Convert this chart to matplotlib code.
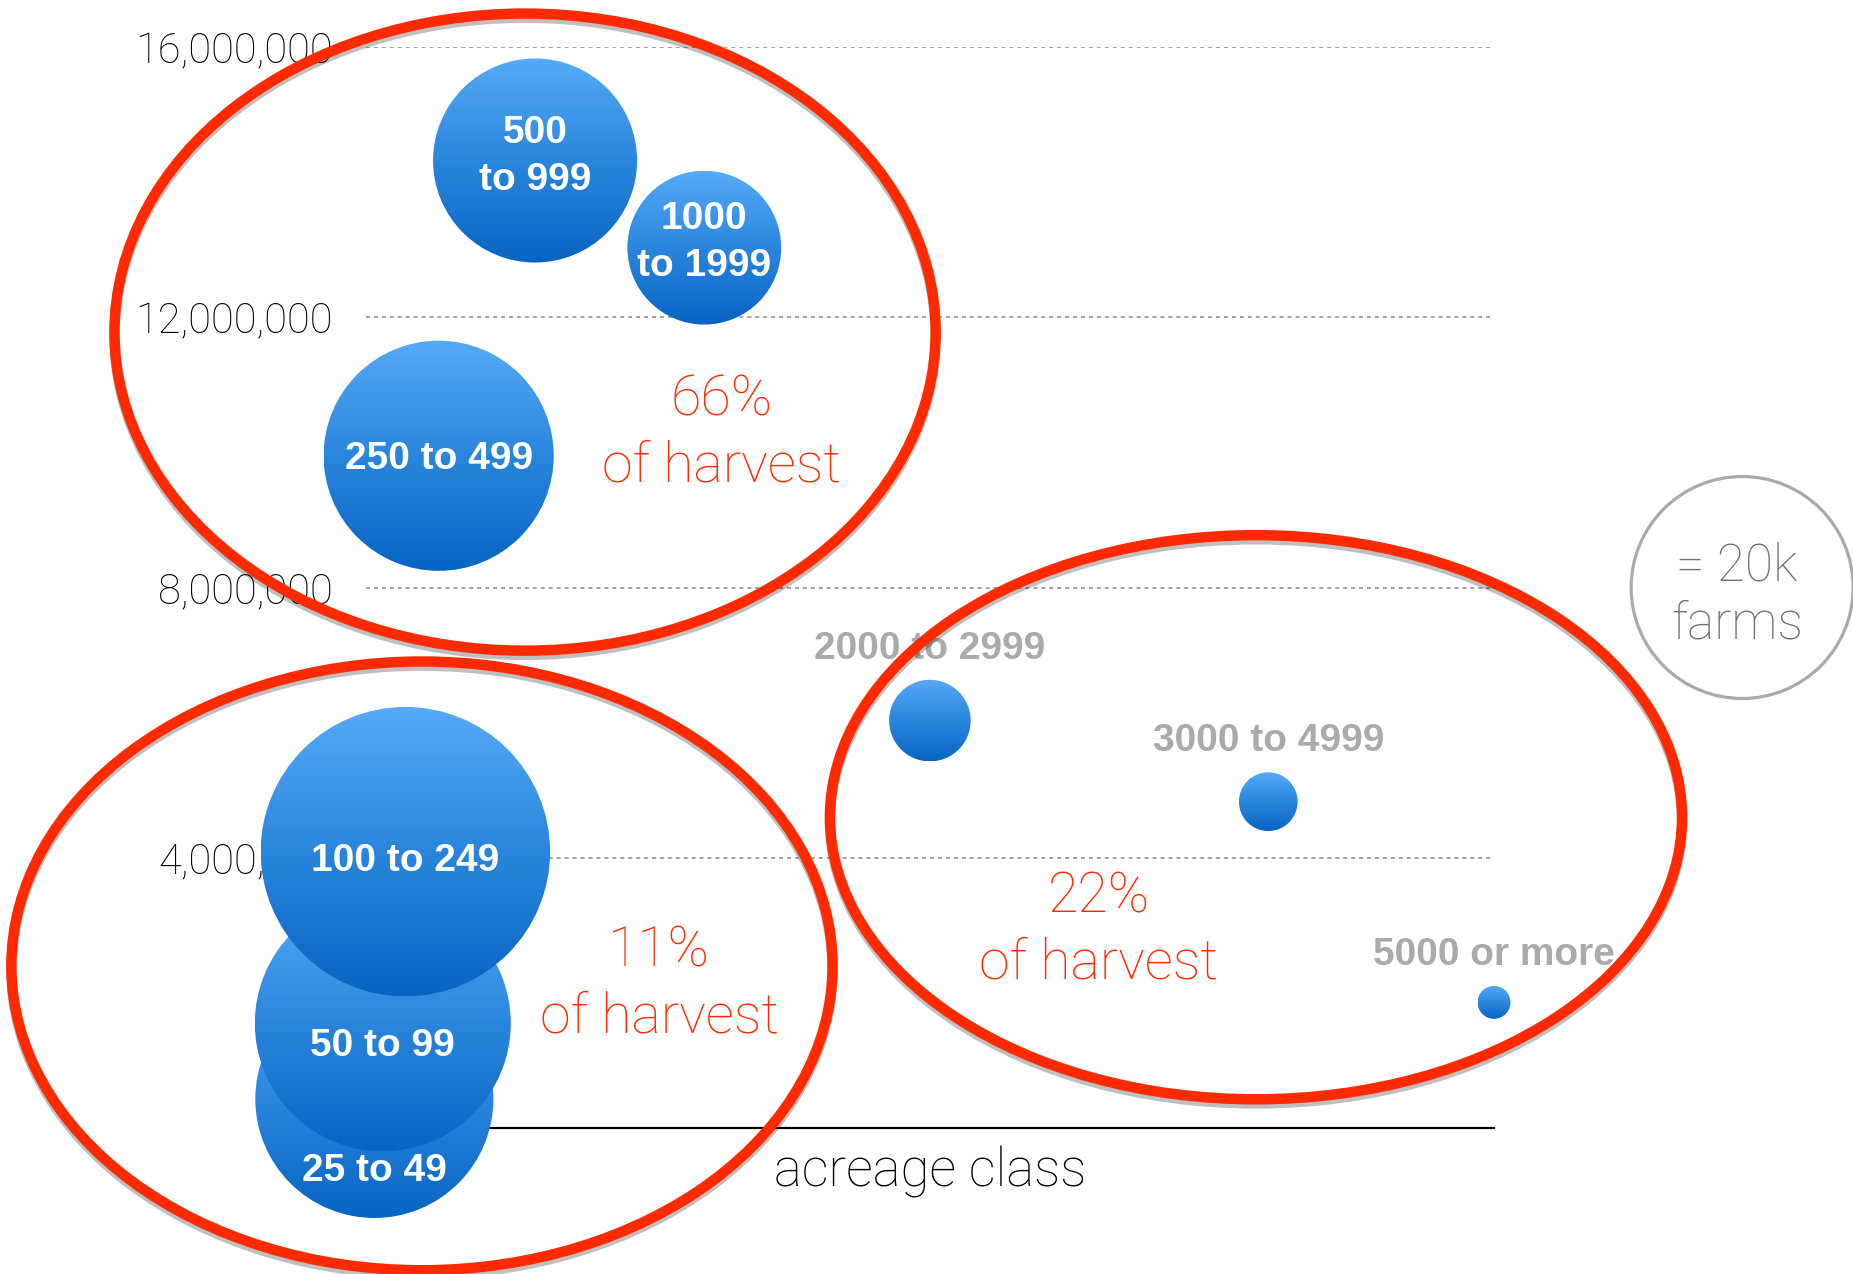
import numpy as np
import matplotlib
matplotlib.use("Agg")
import matplotlib.pyplot as plt
from matplotlib.patches import Circle, Ellipse
from matplotlib.colors import LinearSegmentedColormap
import matplotlib.patheffects as pe

# ---------------- data ----------------
categories = ["25 to 49", "50 to 99", "100 to 249", "250 to 499", "500\nto 999",
              "1000\nto 1999", "2000 to 2999", "3000 to 4999", "5000 or more"]
acreage_mid = [37, 74.5, 174.5, 322, 749.5, 1499.5, 2499.5, 3999.5, 5000]
harvest = [430000, 1550000, 4090000, 9950000, 14320000, 13030000, 6030000, 4830000, 1860000]
farms = [23000, 26600, 34000, 21500, 16900, 9600, 2700, 1400, 440]
ytick_values = [4000000, 8000000, 12000000, 16000000]
legend_farms = 20000
legend_pos = (6100, 8000000)

groups_pct = ["66%", "11%", "22%"]
groups_center = [(705, 11780000), (248, 2400000), (3945, 4600000)]
groups_size = [(3640, 9430000), (3640, 9010000), (3777, 8350000)]
groups_text_pos = [(1574, 10780000), (1299, 2620000), (3249, 3420000)]

# ---------------- style ----------------
W, H = 1853, 1274
LIGHT = ["Roboto", "DejaVu Sans"]
LW = "light"
BOLD = ["Liberation Sans", "DejaVu Sans"]
R20K = 111.0  # pixel radius of the 20k-farm reference bubble
RED = "#ff2a00"
inside = [True, True, True, True, True, True, False, False, False]
label_dy = [-72, -23, -9, -3, 4, 5, 0, 0, 0]

fig = plt.figure(figsize=(W / 100, H / 100), dpi=100)
fig.patch.set_facecolor("white")
ax = fig.add_axes([366 / W, (H - 1128) / H, (1494 - 366) / W, (1128 - 47) / H])
ax.set_xlim(0, 5000)
ax.set_ylim(0, 16000000)
for s in ["left", "right", "top"]:
    ax.spines[s].set_visible(False)
ax.spines["bottom"].set_linewidth(1.6)
ax.spines["bottom"].set_color("black")
ax.set_xticks([])
ax.set_yticks(ytick_values)
ax.set_yticklabels([f"{v:,}" for v in ytick_values], family=LIGHT, fontweight=LW,
                   fontsize=30, color="black")
ax.tick_params(axis="y", length=0, pad=24)
ax.yaxis.grid(True, linestyle=(0, (2.2, 2.2)), color="#9a9a9a", linewidth=1.3)
ax.set_axisbelow(True)
ax.set_xlabel("acreage class", family=LIGHT, fontweight=LW, fontsize=38, labelpad=13,
              color="black")

# overlay in pixel coordinates
ov = fig.add_axes([0, 0, 1, 1], zorder=5)
ov.set_xlim(0, W)
ov.set_ylim(0, H)
ov.axis("off")
ov.patch.set_visible(False)

cmap = LinearSegmentedColormap.from_list("bub", ["#0864c2", "#2a86dc", "#56aaf8"])
grad = np.linspace(0, 1, 256).reshape(-1, 1)

for i, (x, y, f) in enumerate(zip(acreage_mid, harvest, farms)):
    cx, cy = ax.transData.transform((x, y))
    r = R20K * np.sqrt(f / legend_farms)
    circ = Circle((cx, cy), r, transform=ov.transData, facecolor="none", edgecolor="none")
    ov.add_patch(circ)
    im = ov.imshow(grad, cmap=cmap, origin="lower", extent=[cx - r, cx + r, cy - r, cy + r],
                   aspect="auto", interpolation="bilinear", zorder=2 + i * 0.1)
    im.set_clip_path(circ)

for i, (x, y, f) in enumerate(zip(acreage_mid, harvest, farms)):
    cx, cy = ax.transData.transform((x, y))
    r = R20K * np.sqrt(f / legend_farms)
    if inside[i]:
        ov.text(cx, cy + label_dy[i], categories[i], ha="center", va="center", color="white",
                family=BOLD, fontweight="bold", fontsize=28, zorder=4, linespacing=1.4)
    else:
        ov.text(cx, cy + r + 31, categories[i], ha="center", va="center", color="#aaaaaa",
                family=BOLD, fontweight="bold", fontsize=28, zorder=4)

# legend bubble
lx, ly = ax.transData.transform(legend_pos)
ov.add_patch(Circle((lx, ly), R20K * np.sqrt(legend_farms / legend_farms), transform=ov.transData,
                    facecolor="none", edgecolor="#aaaaaa", linewidth=2.3, zorder=3))
ov.text(lx - 5, ly - 8, "= 20k\nfarms", ha="center", va="center", color="#6f6f6f",
        family=LIGHT, fontweight=LW, fontsize=37, linespacing=1.2, zorder=4)

# red group ellipses and labels
for pct, c, sz, tp in zip(groups_pct, groups_center, groups_size, groups_text_pos):
    e = Ellipse(c, sz[0], sz[1], transform=ax.transData, facecolor="none", edgecolor=RED,
                linewidth=7.5, zorder=6, clip_on=False,
                path_effects=[pe.SimpleLineShadow(offset=(0, -3), shadow_color="black", alpha=0.25),
                              pe.Normal()])
    ov.add_patch(e)
    tx, ty = ax.transData.transform(tp)
    ov.text(tx, ty, pct, ha="center", va="center", color=RED, family=LIGHT,
            fontweight=LW, fontsize=40, zorder=7)
    ov.text(tx, ty - 66, "of harvest", ha="center", va="center", color=RED, family=LIGHT,
            fontweight=LW, fontsize=40, zorder=7)

fig.savefig("out.png", dpi=100)
